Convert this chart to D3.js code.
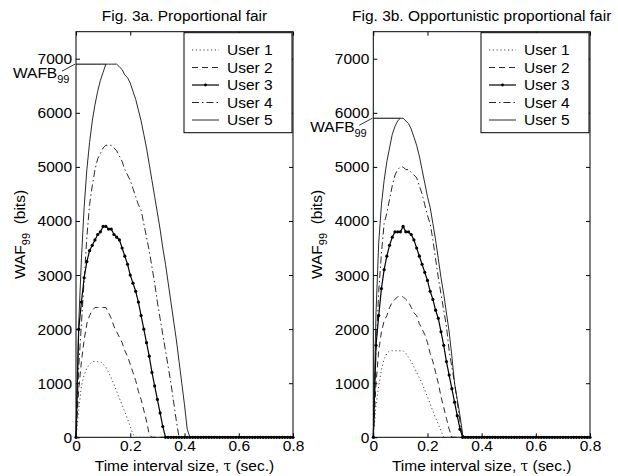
<!DOCTYPE html>
<html>
<head>
<meta charset="utf-8">
<script src="https://cdn.jsdelivr.net/npm/d3@7"></script>
<style>
  body { margin: 0; background: #fff; }
  text { font-family: "Liberation Sans", Arial, Helvetica, sans-serif; }
</style>
</head>
<body>
<div id="chart"></div>
<script>
// chart values
var tau = d3.range(81).map(i => i / 100);   // time interval grid, 0 .. 0.8 s
var users = ['User 1', 'User 2', 'User 3', 'User 4', 'User 5'];
var xTicks = [0, 0.2, 0.4, 0.6, 0.8];
var yTicks = [0, 1000, 2000, 3000, 4000, 5000, 6000, 7000];

// Fig 3a - proportional fair
var pfUser1 = [0, 500, 950, 1150, 1280, 1350, 1400, 1400, 1400, 1400,
  1350, 1300, 1200, 1100, 980, 850, 720, 600, 470, 340,
  200, 60, 0, 0, 0, 0, 0, 0, 0, 0,
  0, 0, 0, 0, 0, 0, 0, 0, 0, 0,
  0, 0, 0, 0, 0, 0, 0, 0, 0, 0,
  0, 0, 0, 0, 0, 0, 0, 0, 0, 0,
  0, 0, 0, 0, 0, 0, 0, 0, 0, 0,
  0, 0, 0, 0, 0, 0, 0, 0, 0, 0,
  0];
var pfUser2 = [0, 900, 1400, 1800, 2100, 2250, 2350, 2400, 2400, 2400,
  2400, 2400, 2300, 2200, 2050, 1950, 1850, 1750, 1600, 1500,
  1350, 1200, 1050, 850, 700, 500, 300, 50, 0, 0,
  0, 0, 0, 0, 0, 0, 0, 0, 0, 0,
  0, 0, 0, 0, 0, 0, 0, 0, 0, 0,
  0, 0, 0, 0, 0, 0, 0, 0, 0, 0,
  0, 0, 0, 0, 0, 0, 0, 0, 0, 0,
  0, 0, 0, 0, 0, 0, 0, 0, 0, 0,
  0];
var pfUser3 = [0, 2000, 2500, 2950, 3250, 3450, 3550, 3650, 3750, 3800,
  3900, 3900, 3850, 3850, 3750, 3700, 3650, 3500, 3350, 3200,
  3000, 2850, 2700, 2500, 2250, 2000, 1750, 1500, 1200, 950,
  700, 450, 200, 0, 0, 0, 0, 0, 0, 0,
  0, 0, 0, 0, 0, 0, 0, 0, 0, 0,
  0, 0, 0, 0, 0, 0, 0, 0, 0, 0,
  0, 0, 0, 0, 0, 0, 0, 0, 0, 0,
  0, 0, 0, 0, 0, 0, 0, 0, 0, 0,
  0];
var pfUser4 = [0, 1300, 2100, 2900, 3700, 4300, 4650, 4950, 5150, 5250,
  5350, 5400, 5400, 5400, 5350, 5300, 5200, 5100, 4950, 4850,
  4750, 4600, 4450, 4300, 4200, 3950, 3700, 3450, 3150, 2850,
  2500, 2200, 1900, 1600, 1300, 1000, 650, 300, 0, 0,
  0, 0, 0, 0, 0, 0, 0, 0, 0, 0,
  0, 0, 0, 0, 0, 0, 0, 0, 0, 0,
  0, 0, 0, 0, 0, 0, 0, 0, 0, 0,
  0, 0, 0, 0, 0, 0, 0, 0, 0, 0,
  0];
var pfUser5 = [0, 2100, 3300, 4250, 4950, 5450, 5850, 6150, 6400, 6600,
  6750, 6900, 6900, 6900, 6900, 6900, 6850, 6800, 6700, 6650,
  6550, 6400, 6250, 6050, 5850, 5600, 5350, 5050, 4750, 4450,
  4150, 3850, 3500, 3200, 2850, 2500, 2150, 1800, 1400, 1000,
  600, 150, 0, 0, 0, 0, 0, 0, 0, 0,
  0, 0, 0, 0, 0, 0, 0, 0, 0, 0,
  0, 0, 0, 0, 0, 0, 0, 0, 0, 0,
  0, 0, 0, 0, 0, 0, 0, 0, 0, 0,
  0];

// Fig 3b - opportunistic proportional fair
var opfUser1 = [0, 600, 950, 1250, 1450, 1550, 1600, 1600, 1600, 1600,
  1600, 1600, 1550, 1480, 1400, 1300, 1200, 1100, 1000, 870,
  750, 620, 480, 360, 240, 120, 0, 0, 0, 0,
  0, 0, 0, 0, 0, 0, 0, 0, 0, 0,
  0, 0, 0, 0, 0, 0, 0, 0, 0, 0,
  0, 0, 0, 0, 0, 0, 0, 0, 0, 0,
  0, 0, 0, 0, 0, 0, 0, 0, 0, 0,
  0, 0, 0, 0, 0, 0, 0, 0, 0, 0,
  0];
var opfUser2 = [0, 1000, 1600, 1950, 2150, 2250, 2400, 2500, 2550, 2600,
  2600, 2600, 2550, 2500, 2400, 2300, 2250, 2100, 2000, 1900,
  1750, 1550, 1400, 1200, 1000, 750, 550, 350, 150, 0,
  0, 0, 0, 0, 0, 0, 0, 0, 0, 0,
  0, 0, 0, 0, 0, 0, 0, 0, 0, 0,
  0, 0, 0, 0, 0, 0, 0, 0, 0, 0,
  0, 0, 0, 0, 0, 0, 0, 0, 0, 0,
  0, 0, 0, 0, 0, 0, 0, 0, 0, 0,
  0];
var opfUser3 = [0, 1700, 2250, 2750, 3100, 3350, 3550, 3700, 3800, 3800,
  3800, 3900, 3800, 3800, 3750, 3650, 3500, 3350, 3200, 3050,
  2900, 2700, 2550, 2350, 2200, 1950, 1700, 1400, 1150, 900,
  650, 400, 150, 0, 0, 0, 0, 0, 0, 0,
  0, 0, 0, 0, 0, 0, 0, 0, 0, 0,
  0, 0, 0, 0, 0, 0, 0, 0, 0, 0,
  0, 0, 0, 0, 0, 0, 0, 0, 0, 0,
  0, 0, 0, 0, 0, 0, 0, 0, 0, 0,
  0];
var opfUser4 = [0, 1600, 2700, 3400, 3950, 4150, 4400, 4650, 4850, 4950,
  5000, 5000, 4950, 4950, 4900, 4850, 4800, 4650, 4500, 4300,
  4100, 3950, 3650, 3300, 2950, 2650, 2350, 2050, 1600, 1300,
  1000, 650, 300, 0, 0, 0, 0, 0, 0, 0,
  0, 0, 0, 0, 0, 0, 0, 0, 0, 0,
  0, 0, 0, 0, 0, 0, 0, 0, 0, 0,
  0, 0, 0, 0, 0, 0, 0, 0, 0, 0,
  0, 0, 0, 0, 0, 0, 0, 0, 0, 0,
  0];
var opfUser5 = [0, 2300, 3600, 4300, 4750, 5100, 5350, 5600, 5750, 5850,
  5900, 5900, 5850, 5800, 5700, 5550, 5400, 5200, 4950, 4700,
  4450, 4250, 3950, 3650, 3300, 2950, 2650, 2300, 1950, 1500,
  1000, 700, 400, 50, 0, 0, 0, 0, 0, 0,
  0, 0, 0, 0, 0, 0, 0, 0, 0, 0,
  0, 0, 0, 0, 0, 0, 0, 0, 0, 0,
  0, 0, 0, 0, 0, 0, 0, 0, 0, 0,
  0, 0, 0, 0, 0, 0, 0, 0, 0, 0,
  0];

var svgWidth = 618;
var svgHeight = 476;
var margin = { top: 31.7, bottom: 38.7 };
var height = svgHeight - margin.top - margin.bottom;
var fontSize = 15.5;

// line looks per user
var dashes = ['1.2,2.6', '6,4', null, '7,3,1.5,3', null];
var colors = ['#444', '#111', '#000', '#111', '#111'];
var widths = [1, 0.9, 1.2, 0.9, 0.9];

var svg = d3.select('#chart')
  .append('svg')
  .attr('width', svgWidth)
  .attr('height', svgHeight);

function drawPanel(left, width, title, series) {
  var g = svg.append('g')
    .attr('transform', `translate(${left}, ${margin.top})`);

  var x = d3.scaleLinear().domain([0, 0.8]).range([0, width]);
  var y = d3.scaleLinear().domain([0, 7500]).range([height, 0]);

  // axes, ticks inward like matlab
  g.append('g')
    .attr('transform', `translate(0, ${height})`)
    .call(d3.axisBottom(x).tickValues(xTicks).tickSizeInner(-4).tickSizeOuter(0).tickPadding(3)
      .tickFormat(d => d === 0 ? '0' : d3.format('.1f')(d)));
  g.append('g')
    .call(d3.axisTop(x).tickValues(xTicks).tickSizeInner(-4).tickSizeOuter(0).tickFormat(''));
  g.append('g')
    .call(d3.axisLeft(y).tickValues(yTicks).tickSizeInner(-4).tickSizeOuter(0).tickPadding(4)
      .tickFormat(d3.format('d')));
  g.append('g')
    .attr('transform', `translate(${width}, 0)`)
    .call(d3.axisRight(y).tickValues(yTicks).tickSizeInner(-4).tickSizeOuter(0).tickFormat(''));

  g.selectAll('.tick line').attr('stroke', '#000');
  g.selectAll('.domain').attr('stroke', 'none');
  g.selectAll('.tick text')
    .attr('fill', '#000')
    .style('font-size', fontSize + 'px')
    .style('font-family', '"Liberation Sans", Arial, sans-serif');

  g.append('rect')
    .attr('width', width)
    .attr('height', height)
    .attr('fill', 'none')
    .attr('stroke', '#000')
    .attr('stroke-width', 1);

  // curves
  var line = d3.line()
    .x((d, i) => x(tau[i]))
    .y(d => y(d));

  series.forEach(function(vals, k) {
    g.append('path')
      .datum(vals)
      .attr('d', line)
      .attr('fill', 'none')
      .attr('stroke', colors[k])
      .attr('stroke-width', widths[k])
      .attr('stroke-dasharray', dashes[k]);
  });

  // markers on user 3
  g.append('g').selectAll('circle')
    .data(series[2])
    .enter()
    .append('circle')
    .attr('cx', (d, i) => x(tau[i]))
    .attr('cy', d => y(d))
    .attr('r', 1.6)
    .attr('fill', '#000');

  // WAFB99 marker: max of user 5
  var user5 = series[4];
  var wafb = d3.max(user5);
  var firstPeak = user5.indexOf(wafb);
  g.append('line')
    .attr('x1', x(0)).attr('x2', x(tau[firstPeak]))
    .attr('y1', y(wafb)).attr('y2', y(wafb))
    .attr('stroke', '#000')
    .attr('stroke-width', 1);
  g.append('line')
    .attr('x1', -14).attr('y1', y(wafb) + 7)
    .attr('x2', -1).attr('y2', y(wafb))
    .attr('stroke', '#000')
    .attr('stroke-width', 0.8);
  var wt = g.append('text')
    .attr('x', -63)
    .attr('y', y(wafb) + 14)
    .style('font-size', fontSize + 'px')
    .text('WAFB');
  wt.append('tspan')
    .attr('dy', 5)
    .style('font-size', '11px')
    .text('99');

  // title
  g.append('text')
    .attr('x', width / 2)
    .attr('y', -11)
    .attr('text-anchor', 'middle')
    .style('font-size', fontSize + 'px')
    .text(title);

  // x label
  var xl = g.append('text')
    .attr('x', width / 2)
    .attr('y', height + 34)
    .attr('text-anchor', 'middle')
    .style('font-size', fontSize + 'px')
    .text('Time interval size, ');
  xl.append('tspan').style('font-family', '"DejaVu Serif", serif').style('font-size', '14px').text('τ');
  xl.append('tspan').text(' (sec.)');

  // y label
  var yl = g.append('text')
    .attr('transform', `translate(-51, ${height / 2}) rotate(-90)`)
    .attr('text-anchor', 'middle')
    .style('font-size', fontSize + 'px')
    .text('WAF');
  yl.append('tspan').attr('dy', 5).style('font-size', '11px').text('99');
  yl.append('tspan').attr('dy', -5).text('\u00a0 (bits)');

  // legend
  var lx = width - 109, ly = 1, lw = 108, lh = 100;
  var legend = g.append('g').attr('transform', `translate(${lx}, ${ly})`);
  legend.append('rect')
    .attr('width', lw)
    .attr('height', lh)
    .attr('fill', '#fff')
    .attr('stroke', '#000')
    .attr('stroke-width', 1);
  users.forEach(function(name, k) {
    var cy = 17.3 + k * 17.5;
    legend.append('line')
      .attr('x1', 8).attr('x2', 35)
      .attr('y1', cy).attr('y2', cy)
      .attr('stroke', colors[k])
      .attr('stroke-width', widths[k])
      .attr('stroke-dasharray', dashes[k]);
    if (k === 2) {
      legend.append('circle').attr('cx', 21.5).attr('cy', cy).attr('r', 1.4).attr('fill', '#000');
    }
    legend.append('text')
      .attr('x', 43)
      .attr('y', cy + 5.5)
      .style('font-size', fontSize + 'px')
      .text(name);
  });
}

drawPanel(76, 217, 'Fig. 3a. Proportional fair',
  [pfUser1, pfUser2, pfUser3, pfUser4, pfUser5]);
drawPanel(373.3, 216.7, 'Fig. 3b. Opportunistic proportional fair',
  [opfUser1, opfUser2, opfUser3, opfUser4, opfUser5]);
</script>
</body>
</html>
